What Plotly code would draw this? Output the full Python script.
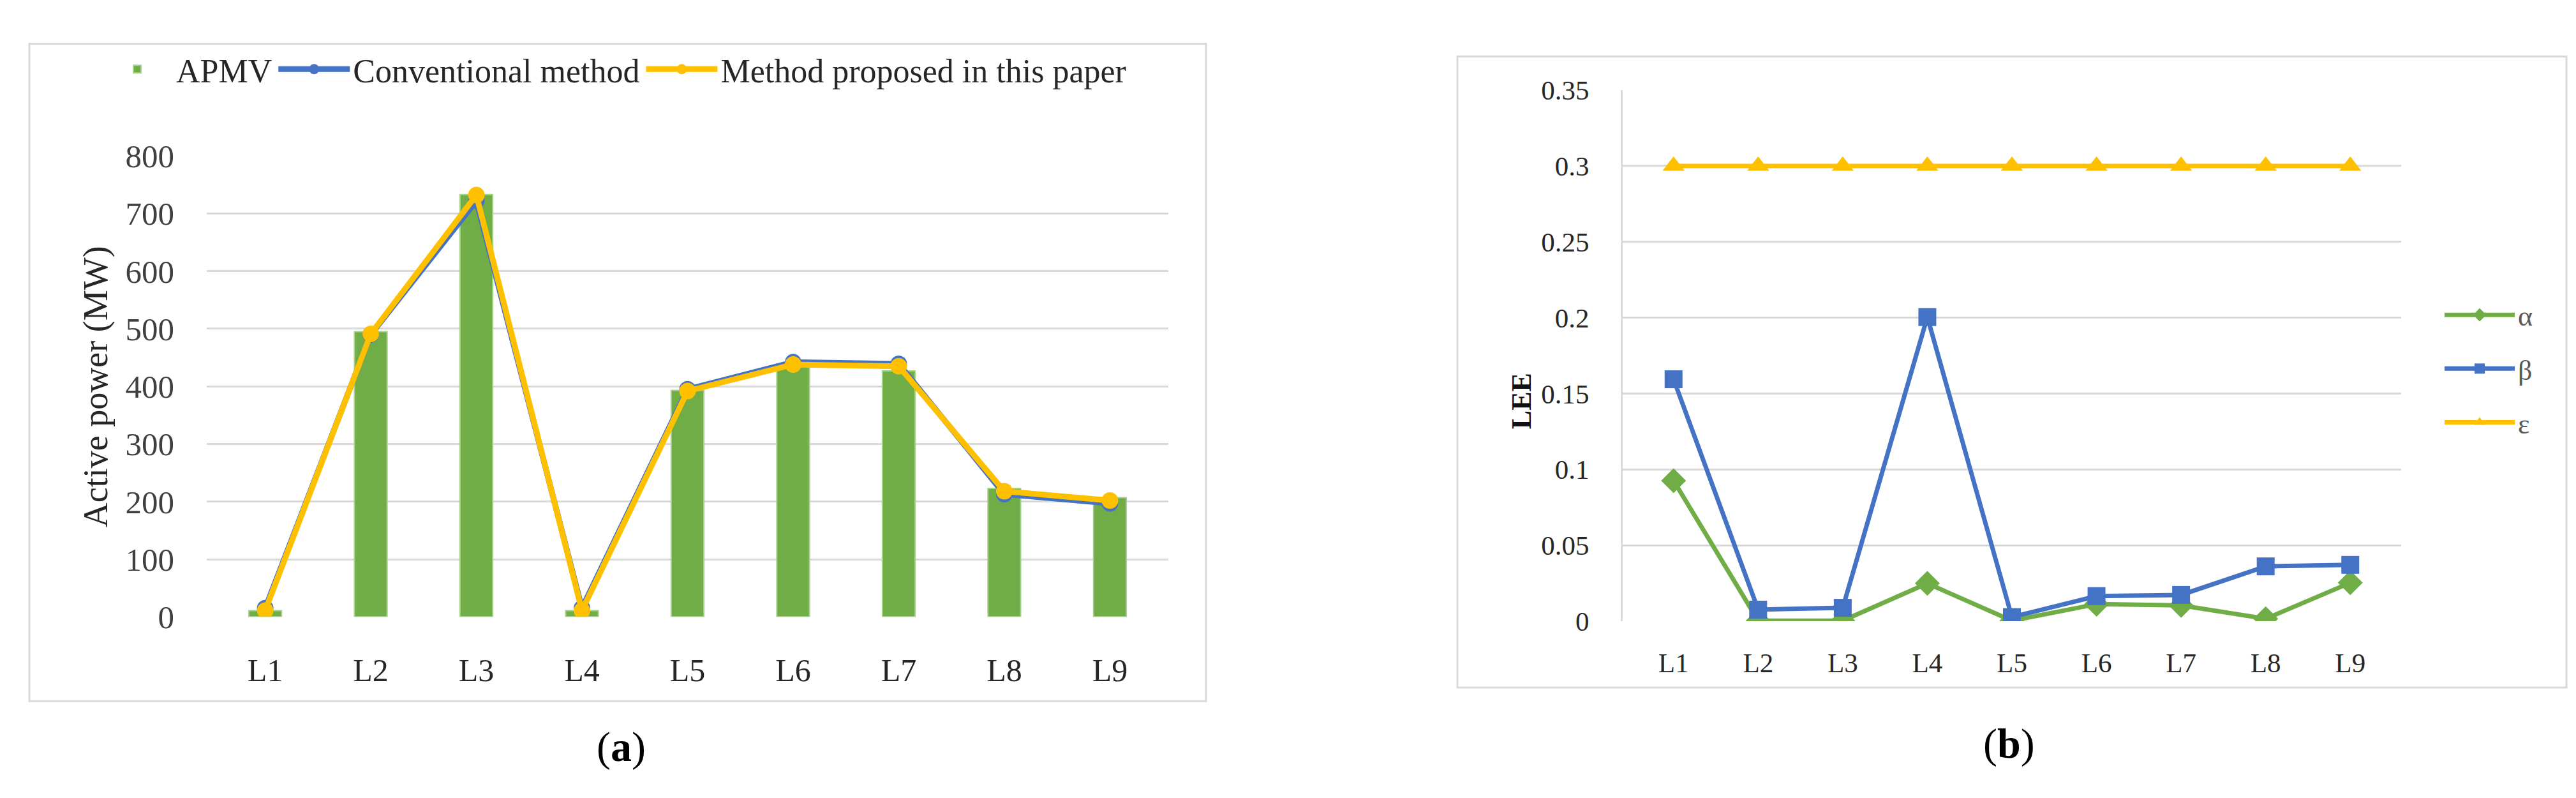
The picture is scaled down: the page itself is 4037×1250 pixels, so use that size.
import plotly.graph_objects as go

W, H = 4037, 1250

categories = ["L1", "L2", "L3", "L4", "L5", "L6", "L7", "L8", "L9"]

# Panel (a): active power (MW)
apmv = [11, 495, 733, 11, 393, 435, 427, 223, 207]
conventional = [15, 490, 722, 15, 395, 442, 439, 213, 197]
proposed = [11, 491, 732, 11, 392, 438, 435, 218, 202]

# Panel (b): LEE
alpha = [0.0926, 0.0003, 0.0003, 0.0249, 0.0003, 0.0112, 0.0104, 0.0016, 0.0253]
beta = [0.1594, 0.0076, 0.0088, 0.2004, 0.0027, 0.0165, 0.0173, 0.0361, 0.0371]
epsilon = [0.3, 0.3, 0.3, 0.3, 0.3, 0.3, 0.3, 0.3, 0.3]

GREEN = "#70ad47"
BLUE = "#4472c4"
YELLOW = "#ffc000"
GRID = "#d9d9d9"
SERIF = "Liberation Serif, Times New Roman, serif"


def px_x(p):
    return p / W


def px_y(p):
    return 1 - p / H


fig = go.Figure()

fig.add_trace(go.Bar(
    x=categories, y=apmv, name="APMV", width=0.31,
    marker=dict(color=GREEN, line=dict(color="#a9d18e", width=2)),
    xaxis="x", yaxis="y", legend="legend",
))
fig.add_trace(go.Scatter(
    x=categories, y=conventional, name="Conventional method", mode="lines+markers",
    line=dict(color=BLUE, width=9), marker=dict(color=BLUE, size=26, symbol="circle"),
    xaxis="x", yaxis="y", legend="legend",
))
fig.add_trace(go.Scatter(
    x=categories, y=proposed, name="Method proposed in this paper", mode="lines+markers",
    line=dict(color=YELLOW, width=9), marker=dict(color=YELLOW, size=26, symbol="circle"),
    xaxis="x", yaxis="y", legend="legend",
))

fig.add_trace(go.Scatter(
    x=categories, y=alpha, name="α", mode="lines+markers", legendgroup="a",
    line=dict(color=GREEN, width=7), marker=dict(color=GREEN, size=30, symbol="diamond"),
    xaxis="x2", yaxis="y2", legend="legend2",
))
fig.add_trace(go.Scatter(
    x=categories, y=beta, name="β", mode="lines+markers", legendgroup="b",
    line=dict(color=BLUE, width=7), marker=dict(color=BLUE, size=28, symbol="square"),
    xaxis="x2", yaxis="y2", legend="legend2",
))
fig.add_trace(go.Scatter(
    x=categories, y=epsilon, name="ε", mode="lines+markers", legendgroup="e",
    line=dict(color=YELLOW, width=7), marker=dict(color=YELLOW, size=30, symbol="triangle-up"),
    xaxis="x2", yaxis="y2", legend="legend2",
))

fig.update_layout(
    width=W, height=H, autosize=False,
    margin=dict(l=0, r=0, t=0, b=0),
    paper_bgcolor="white", plot_bgcolor="white",
    font=dict(family=SERIF, color="#404040"),
    xaxis=dict(
        domain=[px_x(316), px_x(1823)], anchor="y",
        categoryorder="array", categoryarray=categories,
        showgrid=False, showline=False, zeroline=False, ticks="",
        tickfont=dict(size=50, color="#262626"), ticklabelstandoff=50,
    ),
    yaxis=dict(
        domain=[px_y(975), px_y(219)], anchor="x",
        range=[0, 800], dtick=100, showgrid=True, gridcolor=GRID, gridwidth=3,
        zeroline=False, showline=False, ticks="",
        tickfont=dict(size=51, color="#404040"), ticklabelstandoff=50,
    ),
    xaxis2=dict(
        domain=[px_x(2535), px_x(3755)], anchor="y2",
        categoryorder="array", categoryarray=categories,
        showgrid=False, showline=False, zeroline=False, ticks="",
        tickfont=dict(size=43, color="#262626"), ticklabelstandoff=36,
    ),
    yaxis2=dict(
        domain=[px_y(982), px_y(111)], anchor="x2",
        range=[0, 0.35], dtick=0.05, showgrid=True, gridcolor=GRID, gridwidth=3,
        zeroline=False, showline=True, linecolor=GRID, linewidth=3, ticks="",
        tickfont=dict(size=43, color="#262626"), ticklabelstandoff=41,
    ),
    legend=dict(
        orientation="h", x=px_x(146), xanchor="left", y=px_y(77), yanchor="middle",
        font=dict(size=52, color="#262626"), itemwidth=112,
        bgcolor="rgba(0,0,0,0)", traceorder="normal",
    ),
    legend2=dict(
        orientation="v", x=px_x(3818), xanchor="left", y=px_y(568), yanchor="middle",
        font=dict(size=44, color="#595959"), itemwidth=110, tracegroupgap=24,
        bgcolor="rgba(0,0,0,0)", traceorder="grouped",
    ),
    bargap=0.69,
    showlegend=True,
    shapes=[
        dict(type="rect", xref="paper", yref="paper",
             x0=px_x(38), x1=px_x(1882), y0=px_y(1113), y1=px_y(35),
             line=dict(color=GRID, width=3), layer="below"),
        dict(type="rect", xref="paper", yref="paper",
             x0=px_x(2276), x1=px_x(4014), y0=px_y(1091), y1=px_y(56),
             line=dict(color=GRID, width=3), layer="below"),
    ],
    annotations=[
        dict(text="Active power (MW)", xref="paper", yref="paper",
             x=px_x(142), y=px_y(598), textangle=-90, showarrow=False,
             xanchor="center", yanchor="middle",
             font=dict(size=54, color="#262626", family=SERIF)),
        dict(text="<b>LEE</b>", xref="paper", yref="paper",
             x=px_x(2376), y=px_y(621), textangle=-90, showarrow=False,
             xanchor="center", yanchor="middle",
             font=dict(size=44, color="#111111", family=SERIF)),
        dict(text="(<b>a</b>)", xref="paper", yref="paper",
             x=px_x(965), y=px_y(1188), showarrow=False,
             xanchor="center", yanchor="middle",
             font=dict(size=66, color="#000000", family=SERIF)),
        dict(text="(<b>b</b>)", xref="paper", yref="paper",
             x=px_x(3140), y=px_y(1183), showarrow=False,
             xanchor="center", yanchor="middle",
             font=dict(size=66, color="#000000", family=SERIF)),
    ],
)

fig.write_html("out.html")
